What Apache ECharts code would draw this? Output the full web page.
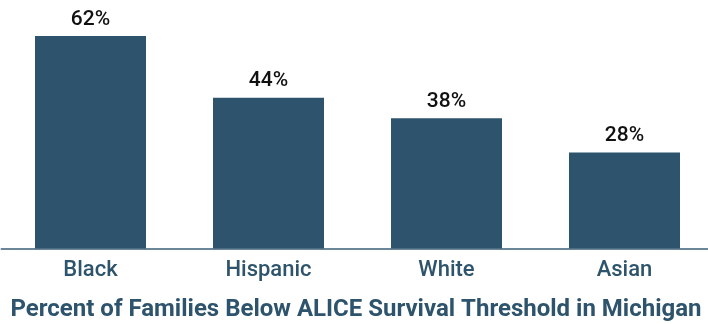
<!DOCTYPE html>
<html><head><meta charset="utf-8">
<script src="https://cdn.jsdelivr.net/npm/echarts@6/dist/echarts.min.js"></script>
<style>html,body{margin:0;padding:0;background:#fff}#c{width:708px;height:324px}</style>
</head><body><div id="c"></div>
<script>
const categories = ['Black', 'Hispanic', 'White', 'Asian'];
const values = [62, 44, 38, 28];
const titleText = 'Percent of Families Below ALICE Survival Threshold in Michigan';
const chart = echarts.init(document.getElementById('c'), null, {renderer: 'canvas'});
chart.setOption({
  animation: false,
  title: {
    text: titleText, left: 356, textAlign: 'center', top: 297, padding: 0,
    textStyle: {fontFamily: 'Roboto', fontWeight: 'bold', fontSize: 24, lineHeight: 26, color: '#2d546c'}
  },
  grid: {left: 1.5, width: 712, top: 8.6, bottom: 75.5, containLabel: false, outerBoundsMode: 'none'},
  xAxis: {
    type: 'category', data: categories,
    axisLine: {lineStyle: {color: '#6b8599', width: 2}},
    axisTick: {show: false},
    axisLabel: {fontFamily: 'Roboto', fontSize: 22, fontWeight: 500, color: '#2d546c', margin: 11}
  },
  yAxis: {type: 'value', min: 0, max: 70, show: false, splitLine: {show: false}},
  series: [{
    type: 'bar', data: values, barWidth: 111,
    itemStyle: {color: '#2d546c'},
    label: {show: true, position: 'top', distance: 6, formatter: '{c}%',
      fontFamily: 'Roboto', fontSize: 21, fontWeight: 500, color: '#111'}
  }]
});
</script></body></html>
